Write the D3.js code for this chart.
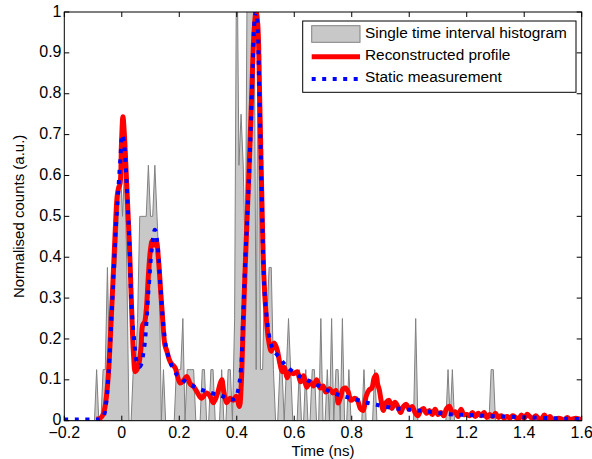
<!DOCTYPE html>
<html>
<head>
<meta charset="utf-8">
<script src="https://cdn.jsdelivr.net/npm/d3@7"></script>
<style>
  body { margin: 0; background: #fff; }
  svg text { font-family: "Liberation Sans", Arial, Helvetica, sans-serif; }
</style>
</head>
<body>
<div id="chart"></div>
<script>
// histogram counts per bin (1 count = 0.125 a.u.), bins from -0.2 ns every 0.0075 ns
let histCounts = [
  0,0,0,0,0,0,0,0,0,0, 0,0,0,0,0,1,0,0,1,1,
  3,1,2,3,3,4,5,4,5,3, 0,0,1,1,2,4,4,4,4,5,
  4,4,5,4,3,0,1,0,0,0, 0,0,1,1,1,2,0,1,1,1,
  1,0,0,0,1,1,0,0,1,1, 0,0,0,1,0,0,1,1,0,2,
  10,5,6,5,3,10,9,8,9,1, 9,1,1,3,2,3,3,1,0,0,
  1,1,0,1,2,1,0,0,0,1, 0,0,1,0,0,1,1,0,0,2,
  0,0,1,0,2,0,1,1,0,2, 0,0,1,0,0,0,0,0,0,1,
  0,0,0,0,1,0,0,0,0,0, 0,0,0,0,0,0,0,0,0,0,
  0,0,0,2,0,0,0,0,0,0, 0,0,0,0,0,0,0,0,1,0,
  1,0,0,0,0,0,0,0,0,0, 0,0,0,0,0,0,0,0,1,1,
  0,0,0,0,0,0,0,0,0,0, 0,0,0,0,0,0,0,0,0,0,
  0,0,0,0,0,0,0,0,0,0, 0,0,0,0,0,0,0,0,0,0,0
];
let histStart = -0.2;
let histStep = 0.0075;
let countScale = 0.125;

// static measurement (blue dotted)
let staticT = [-0.2,-0.15,-0.1,-0.075,-0.064,-0.055,-0.046,-0.034,-0.023,-0.012,-0.005,0.002,0.007,0.017,0.026,0.034,0.043,0.052,0.063,0.075,0.081,0.093,0.104,0.115,0.123,0.133,0.144,0.156,0.18,0.203,0.25,0.31,0.35,0.375,0.395,0.405,0.415,0.422,0.43,0.438,0.447,0.455,0.462,0.467,0.472,0.478,0.487,0.492,0.498,0.504,0.515,0.527,0.55,0.573,0.62,0.655,0.69,0.735,0.77,0.805,0.852,0.886,0.945,1.003,1.07,1.14,1.21,1.3,1.42,1.54,1.6];
let staticV = [0.003,0.003,0.003,0.004,0.01,0.04,0.117,0.28,0.443,0.565,0.64,0.70,0.685,0.58,0.443,0.28,0.198,0.145,0.132,0.165,0.198,0.32,0.418,0.467,0.44,0.345,0.24,0.174,0.125,0.105,0.084,0.068,0.06,0.052,0.055,0.075,0.13,0.25,0.40,0.52,0.68,0.86,0.98,1.0,0.97,0.82,0.55,0.40,0.30,0.255,0.198,0.174,0.153,0.133,0.108,0.096,0.084,0.068,0.06,0.054,0.044,0.039,0.031,0.027,0.022,0.016,0.014,0.011,0.008,0.005,0.004];

// reconstructed profile (red)
let reconT = [-0.088,-0.075,-0.065,-0.056,-0.047,-0.036,-0.025,-0.016,-0.011,-0.006,-0.001,0.004,0.009,0.017,0.026,0.034,0.041,0.047,0.053,0.06,0.067,0.073,0.079,0.085,0.093,0.1,0.106,0.113,0.12,0.127,0.135,0.143,0.15,0.157,0.165,0.172,0.185,0.203,0.215,0.226,0.238,0.249,0.262,0.277,0.295,0.307,0.318,0.33,0.342,0.348,0.355,0.365,0.377,0.388,0.398,0.409,0.415,0.42,0.427,0.435,0.443,0.452,0.46,0.467,0.473,0.48,0.488,0.494,0.5,0.51,0.52,0.53,0.54,0.55,0.558,0.566,0.575,0.585,0.597,0.61,0.622,0.632,0.643,0.655,0.667,0.678,0.69,0.7,0.71,0.722,0.735,0.745,0.753,0.762,0.77,0.778,0.788,0.797,0.81,0.82,0.83,0.84,0.85,0.86,0.87,0.878,0.885,0.89,0.896,0.902,0.91,0.92,0.93,0.94,0.95,0.96,0.97,0.98,0.99,1.0,1.01,1.02,1.03,1.04,1.05,1.06,1.07,1.08,1.09,1.1,1.11,1.12,1.13,1.14,1.15,1.16,1.17,1.18,1.19,1.2,1.21,1.22,1.23,1.24,1.25,1.26,1.27,1.28,1.29,1.3,1.31,1.32,1.33,1.34,1.35,1.36,1.37,1.38,1.39,1.4,1.41,1.42,1.43,1.44,1.45,1.46,1.47,1.48,1.49,1.5,1.52,1.54,1.55,1.56,1.58,1.6];
let reconV = [0.004,0.006,0.015,0.045,0.11,0.26,0.43,0.55,0.57,0.58,0.68,0.744,0.70,0.58,0.44,0.28,0.16,0.12,0.125,0.14,0.18,0.235,0.24,0.27,0.36,0.42,0.44,0.43,0.44,0.40,0.32,0.24,0.185,0.17,0.15,0.14,0.13,0.092,0.098,0.108,0.09,0.084,0.07,0.055,0.068,0.06,0.044,0.06,0.09,0.10,0.07,0.044,0.055,0.05,0.06,0.035,0.08,0.18,0.33,0.48,0.62,0.80,0.95,1.0,0.97,0.78,0.52,0.36,0.28,0.2,0.17,0.19,0.175,0.14,0.12,0.13,0.105,0.12,0.115,0.12,0.095,0.11,0.082,0.095,0.085,0.1,0.08,0.085,0.07,0.078,0.068,0.074,0.043,0.06,0.078,0.08,0.07,0.05,0.055,0.05,0.03,0.025,0.06,0.075,0.08,0.105,0.112,0.09,0.075,0.05,0.025,0.045,0.05,0.03,0.045,0.035,0.02,0.035,0.04,0.028,0.035,0.02,0.012,0.025,0.03,0.018,0.025,0.015,0.028,0.015,0.02,0.012,0.03,0.035,0.018,0.022,0.01,0.028,0.015,0.015,0.012,0.02,0.01,0.018,0.012,0.02,0.008,0.015,0.01,0.018,0.008,0.012,0.006,0.01,0.006,0.012,0.008,0.004,0.014,0.006,0.016,0.01,0.005,0.012,0.006,0.004,0.014,0.004,0.01,0.003,0.006,0.002,0.008,0.003,0.006,0.002];

let xTicks = [-0.2,0,0.2,0.4,0.6,0.8,1,1.2,1.4,1.6];
let yTicks = [0,0.1,0.2,0.3,0.4,0.5,0.6,0.7,0.8,0.9,1];
let legendLabels = ['Single time interval histogram','Reconstructed profile','Static measurement'];

let W = 592, H = 459;
let axLeft = 64.3, axRight = 581.7, axTop = 12, axBottom = 420.7;

let svg = d3.select('#chart').append('svg')
    .attr('width', W)
    .attr('height', H);

let x = d3.scaleLinear().domain([-0.2, 1.6]).range([axLeft, axRight]);
let y = d3.scaleLinear().domain([0, 1]).range([axBottom, axTop]);

svg.append('clipPath').attr('id', 'plotclip')
  .append('rect')
    .attr('x', axLeft).attr('y', axTop)
    .attr('width', axRight - axLeft).attr('height', axBottom - axTop);

let plot = svg.append('g').attr('clip-path', 'url(#plotclip)');

// histogram as filled area
let hist = histCounts.map((c, i) => [histStart + i * histStep, c * countScale]);
let area = d3.area()
    .x(d => x(d[0]))
    .y0(y(0))
    .y1(d => y(d[1]));
plot.append('path')
    .datum(hist)
    .attr('d', area)
    .attr('fill', '#c8c8c8')
    .attr('stroke', '#808080')
    .attr('stroke-width', 1);

let line = d3.line()
    .x(d => x(d[0]))
    .y(d => y(d[1]))
    .curve(d3.curveCatmullRom.alpha(0.5));

let recon = reconT.map((t, i) => [t, reconV[i]]);
let stat = staticT.map((t, i) => [t, staticV[i]]);

plot.append('path')
    .datum(recon)
    .attr('d', line)
    .attr('fill', 'none')
    .attr('stroke', '#ff0000')
    .attr('stroke-width', 5)
    .attr('stroke-linejoin', 'round');

plot.append('path')
    .datum(stat)
    .attr('d', line)
    .attr('fill', 'none')
    .attr('stroke', '#0000ff')
    .attr('stroke-width', 4)
    .attr('stroke-dasharray', '4,6.5');

// axes box with inward ticks on all sides
let axes = svg.append('g');
axes.append('rect')
    .attr('x', axLeft).attr('y', axTop)
    .attr('width', axRight - axLeft).attr('height', axBottom - axTop)
    .attr('fill', 'none')
    .attr('stroke', '#000')
    .attr('stroke-width', 1);

let tickLen = 5;
axes.selectAll('.xt')
    .data(xTicks)
    .join('path')
    .attr('d', d => `M${x(d)},${axBottom}V${axBottom - tickLen}M${x(d)},${axTop}V${axTop + tickLen}`)
    .attr('stroke', '#000');
axes.selectAll('.yt')
    .data(yTicks)
    .join('path')
    .attr('d', d => `M${axLeft},${y(d)}H${axLeft + tickLen}M${axRight},${y(d)}H${axRight - tickLen}`)
    .attr('stroke', '#000');

axes.selectAll('.xl')
    .data(xTicks)
    .join('text')
    .attr('x', d => x(d))
    .attr('y', 437.5)
    .attr('text-anchor', 'middle')
    .style('font-size', '16px')
    .text(d => d3.format('')(d));

axes.selectAll('.yl')
    .data(yTicks)
    .join('text')
    .attr('x', 61.5)
    .attr('y', d => y(d) + 4.6)
    .attr('text-anchor', 'end')
    .style('font-size', '16px')
    .text(d => d3.format('')(d));

svg.append('text')
    .attr('x', (axLeft + axRight) / 2)
    .attr('y', 456)
    .attr('text-anchor', 'middle')
    .style('font-size', '15px')
    .text('Time (ns)');

svg.append('text')
    .attr('transform', `translate(24,${(axTop + axBottom) / 2}) rotate(-90)`)
    .attr('text-anchor', 'middle')
    .style('font-size', '15px')
    .text('Normalised counts (a.u.)');

// legend
let lg = svg.append('g');
lg.append('rect')
    .attr('x', 302.7).attr('y', 21)
    .attr('width', 273.3).attr('height', 71.3)
    .attr('fill', '#fff')
    .attr('stroke', '#000')
    .attr('stroke-width', 1);
lg.append('rect')
    .attr('x', 311.7).attr('y', 25.7)
    .attr('width', 48.3).attr('height', 16.6)
    .attr('fill', '#c8c8c8')
    .attr('stroke', '#808080');
lg.append('line')
    .attr('x1', 311.7).attr('x2', 360)
    .attr('y1', 56.7).attr('y2', 56.7)
    .attr('stroke', '#ff0000')
    .attr('stroke-width', 5);
lg.append('line')
    .attr('x1', 311.7).attr('x2', 360)
    .attr('y1', 79).attr('y2', 79)
    .attr('stroke', '#0000ff')
    .attr('stroke-width', 4)
    .attr('stroke-dasharray', '4,6.5');
lg.selectAll('.lt')
    .data(legendLabels)
    .join('text')
    .attr('x', 365)
    .attr('y', (d, i) => [37.5, 60, 82][i])
    .style('font-size', '15.4px')
    .text(d => d);
</script>
</body>
</html>
